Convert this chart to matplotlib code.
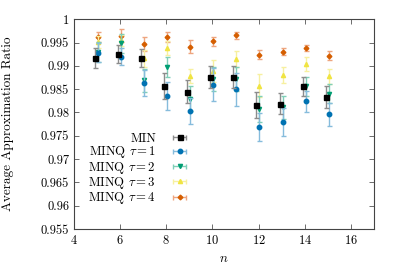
import matplotlib
matplotlib.use("Agg")
import matplotlib.pyplot as plt
import numpy as np

plt.rcParams["font.family"] = "serif"
plt.rcParams["font.serif"] = ["cmr10"]
plt.rcParams["mathtext.fontset"] = "cm"
plt.rcParams["axes.formatter.use_mathtext"] = True
plt.rcParams["font.size"] = 9

n_vals = np.arange(5, 16)

min_mean = [0.9917, 0.99255, 0.9917, 0.98562, 0.98447, 0.98768, 0.98762, 0.98161, 0.98189, 0.98562, 0.98333]
min_err = [0.0022, 0.0020, 0.0020, 0.0028, 0.0025, 0.0024, 0.0024, 0.0028, 0.0023, 0.0020, 0.0024]
tau1_mean = [0.99283, 0.9920, 0.98633, 0.9836, 0.98039, 0.98597, 0.98498, 0.97682, 0.97803, 0.9824, 0.97961]
tau1_err = [0.0020, 0.0019, 0.0027, 0.0030, 0.0028, 0.0035, 0.0035, 0.0030, 0.0030, 0.0023, 0.0025]
tau2_mean = [0.9930, 0.99485, 0.9869, 0.98977, 0.9830, 0.98719, 0.98725, 0.98075, 0.98111, 0.9856, 0.98403]
tau2_err = [0.0022, 0.0020, 0.0025, 0.0022, 0.0027, 0.0026, 0.0026, 0.0027, 0.0025, 0.0020, 0.0020]
tau3_mean = [0.9952, 0.9955, 0.9916, 0.99384, 0.98777, 0.9889, 0.99142, 0.98575, 0.98805, 0.99047, 0.98777]
tau3_err = [0.0013, 0.0012, 0.0019, 0.0015, 0.0015, 0.0023, 0.0017, 0.0025, 0.0018, 0.0015, 0.0016]
tau4_mean = [0.99627, 0.99648, 0.99477, 0.9962, 0.99406, 0.99528, 0.99657, 0.9924, 0.99305, 0.99384, 0.99219]
tau4_err = [0.0011, 0.0014, 0.0015, 0.0011, 0.0014, 0.0010, 0.0007, 0.0009, 0.0008, 0.0007, 0.0009]

labels = ["MIN", r"MINQ $\tau = 1$", r"MINQ $\tau = 2$", r"MINQ $\tau = 3$", r"MINQ $\tau = 4$"]
means = [min_mean, tau1_mean, tau2_mean, tau3_mean, tau4_mean]
errs = [min_err, tau1_err, tau2_err, tau3_err, tau4_err]
colors = ["#000000", "#0072B2", "#009E73", "#F0E442", "#D55E00"]
ecolors = ["#8c8c8c", "#86bcdc", "#7fcfb8", "#f7f0a0", "#eea57f"]
markers = ["s", "o", "v", "^", "D"]
msizes = [3.6, 3.2, 3.0, 3.0, 2.4]
offsets = [-0.09, 0.04, 0.04, 0.04, 0.04]

fig = plt.figure(figsize=(3.99, 2.79), dpi=100)
ax = fig.add_axes([0.1855, 0.179, 0.7515, 0.752])

# draw in reverse so MIN sits on top
for i in [4, 3, 2, 1, 0]:
    ax.errorbar(n_vals + offsets[i], means[i], yerr=errs[i], fmt=markers[i],
                color=colors[i], ecolor=ecolors[i], ms=msizes[i], mec=colors[i],
                elinewidth=1.0, capsize=1.8, capthick=1.0, zorder=3 + (4 - i))

# legend handles: horizontal bars like gnuplot
handles = []
for i in range(5):
    h = ax.errorbar([np.nan], [np.nan], xerr=[1], fmt=markers[i], color=colors[i],
                    ecolor=ecolors[i], ms=msizes[i], mec=colors[i],
                    elinewidth=1.0, capsize=1.8, capthick=1.0)
    handles.append(h)

ax.legend(handles, labels, loc="center right", bbox_to_anchor=(0.41, 0.284),
          markerfirst=False, frameon=False, fontsize=9.2, handlelength=2.7,
          labelspacing=-0.05, borderaxespad=0.0, borderpad=0.0, handletextpad=0.5)

ax.set_xlim(4, 17)
ax.set_ylim(0.955, 1.0)
ax.set_xticks([4, 6, 8, 10, 12, 14, 16])
ax.set_yticks(np.arange(0.955, 1.0001, 0.005))
ax.set_yticklabels(["0.955", "0.96", "0.965", "0.97", "0.975", "0.98", "0.985",
                    "0.99", "0.995", "1"])
ax.tick_params(direction="in", top=True, right=True, length=3.5, width=0.6,
               color="#555555", labelsize=9)
for s in ax.spines.values():
    s.set_color("#444444")
    s.set_linewidth(0.8)

ax.set_xlabel(r"$n$", fontsize=9.5)
ax.set_ylabel("Average Approximation Ratio", fontsize=9.5)
ax.yaxis.set_label_coords(-0.2, 0.5)

fig.savefig("out.png", dpi=100)
